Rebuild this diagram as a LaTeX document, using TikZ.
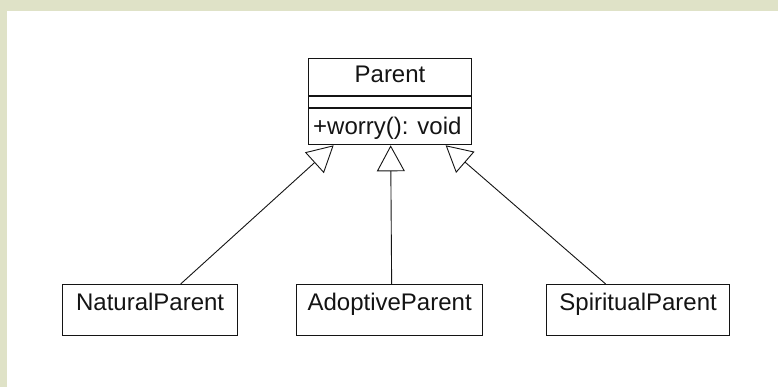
\documentclass[tikz,border=0pt]{standalone}
\usepackage{fontspec}
\setmainfont{Liberation Sans}
\usetikzlibrary{arrows.meta}
\definecolor{frame}{RGB}{223,226,199}
\definecolor{ink}{RGB}{20,20,20}
\begin{document}
\begin{tikzpicture}[x=1pt,y=-1pt,
  umlbox/.style={draw=ink, line width=1.3pt, inner sep=0pt, minimum height=51pt,
    text height=26pt, text depth=25pt, anchor=north west, text=ink,
    font=\fontsize{24pt}{28pt}\selectfont},
  lbl/.style={inner sep=0pt, text=ink, font=\fontsize{24pt}{28pt}\selectfont},
  inherit/.style={draw=ink, line width=0.9pt,
    -{Triangle[open, length=26pt, width=28pt, line width=0.9pt]}}]
\useasboundingbox (0,0) rectangle (778,387);
\fill[frame] (0,0) rectangle (778,387);
\fill[white] (7,11) rectangle (778,387);
% Parent class
\node[draw=ink, line width=1.3pt, inner sep=0pt, minimum width=163pt, minimum height=86pt,
  anchor=north west] (parent) at (308,58) {};
\node[lbl, anchor=base] (pname) at (390,83) {Parent};
\coordinate (d1) at (0,96);
\coordinate (d2) at (0,108);
\draw[ink, line width=1.3pt] (parent.west |- d1) -- (parent.east |- d1);
\draw[ink, line width=1.3pt] (parent.west |- d2) -- (parent.east |- d2);
\node[lbl, anchor=base west] (pop) at (313,135) {+worry(): void};
% Subclasses
\node[umlbox, minimum width=175pt] (natural) at (62,284) {NaturalParent};
\node[umlbox, minimum width=186pt] (adoptive) at (296,284) {AdoptiveParent};
\node[umlbox, minimum width=183pt] (spiritual) at (546,284) {SpiritualParent};
% Generalisation connectors
\draw[inherit] ([xshift=30.5pt]natural.north) -- ([xshift=-56.5pt]parent.south);
\draw[inherit] ([xshift=2pt]adoptive.north) -- ([xshift=0.5pt]parent.south);
\draw[inherit] ([xshift=-32.5pt]spiritual.north) -- ([xshift=55.5pt]parent.south);
\end{tikzpicture}
\end{document}
